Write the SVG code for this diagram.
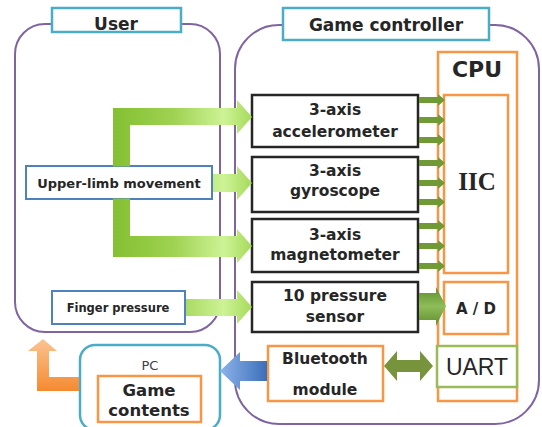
<svg xmlns="http://www.w3.org/2000/svg" width="542" height="427" viewBox="0 0 542 427">
<defs>
<style>
.cont{fill:none;stroke:#8064a2;stroke-width:2}
.lbl{fill:#fff;stroke:#4bacc6;stroke-width:2.5}
.sens{fill:#fff;stroke:#262626;stroke-width:2.5}
.org{fill:#fff;stroke:#f79646;stroke-width:2.5}
.blu{fill:#fff;stroke:#4f81bd;stroke-width:2}
.t{font-family:"DejaVu Sans",Verdana,sans-serif;font-weight:bold;fill:#262626;text-anchor:middle}
.small{fill:#6f9a36}
</style>
<linearGradient id="gg" gradientUnits="userSpaceOnUse" x1="110" y1="0" x2="252" y2="0">
<stop offset="0" stop-color="#82bf30"/>
<stop offset="0.45" stop-color="#9fd252"/>
<stop offset="0.8" stop-color="#cdf396"/>
<stop offset="1" stop-color="#a6da5a"/>
</linearGradient>
<linearGradient id="gp" x1="0" y1="0" x2="0" y2="1">
<stop offset="0" stop-color="#5e8c2a"/>
<stop offset="0.5" stop-color="#8fbd5a"/>
<stop offset="1" stop-color="#5e8c2a"/>
</linearGradient>
<linearGradient id="gb" gradientUnits="userSpaceOnUse" x1="220" y1="0" x2="268" y2="0">
<stop offset="0" stop-color="#8db4ea"/>
<stop offset="1" stop-color="#3a6db8"/>
</linearGradient>
<linearGradient id="go" gradientUnits="userSpaceOnUse" x1="0" y1="339" x2="0" y2="391">
<stop offset="0" stop-color="#fbc492"/>
<stop offset="1" stop-color="#f58a30"/>
</linearGradient>
</defs>
<rect width="542" height="427" fill="#fff"/>

<g id="user-container">
<rect class="cont" x="15" y="24" width="205" height="308" rx="30"/>
<rect class="lbl" x="52" y="8" width="129" height="24"/>
<text class="t" x="116" y="30" font-size="17">User</text>
</g>
<g id="controller-container">
<rect class="cont" x="235" y="25" width="304" height="399" rx="44"/>
<rect class="lbl" x="283" y="8" width="206" height="32"/>
<text class="t" x="386" y="31" font-size="17">Game controller</text>
</g>

<g id="upper-limb">
<rect class="blu" x="26" y="166" width="186" height="33"/>
<text class="t" x="119" y="188" font-size="13">Upper-limb movement</text>
</g>
<g id="finger-pressure">
<rect class="blu" x="52" y="291" width="133" height="33"/>
<text class="t" x="118" y="312" font-size="11.5">Finger pressure</text>
</g>

<g id="accelerometer">
<rect class="sens" x="252" y="95" width="166" height="52"/>
<text class="t" x="335" y="115" font-size="15.5">3-axis</text>
<text class="t" x="335" y="137" font-size="15.5">accelerometer</text>
</g>
<g id="gyroscope">
<rect class="sens" x="252" y="157" width="166" height="55"/>
<text class="t" x="335" y="176" font-size="15.5">3-axis</text>
<text class="t" x="335" y="196" font-size="15.5">gyroscope</text>
</g>
<g id="magnetometer">
<rect class="sens" x="252" y="219" width="166" height="53"/>
<text class="t" x="335" y="240" font-size="15.5">3-axis</text>
<text class="t" x="335" y="260" font-size="15.5">magnetometer</text>
</g>
<g id="pressure-sensor">
<rect class="sens" x="252" y="282" width="166" height="50"/>
<text class="t" x="335" y="301" font-size="15.5">10 pressure</text>
<text class="t" x="335" y="322" font-size="15.5">sensor</text>
</g>

<g id="cpu">
<rect class="org" x="438" y="52" width="79" height="349" fill="none"/>
<text class="t" x="477" y="77" font-size="22" fill="#000">CPU</text>
</g>
<g id="iic">
<rect class="org" x="444" y="95" width="64" height="178"/>
<text x="477" y="190" font-size="25" font-weight="bold" text-anchor="middle" font-family="'Liberation Serif','Times New Roman',serif" fill="#262626">IIC</text>
</g>
<g id="ad">
<rect class="org" x="444" y="282" width="64" height="52"/>
<text class="t" x="476" y="314" font-size="15">A / D</text>
</g>
<g id="uart">
<rect x="437" y="346" width="80" height="41" fill="#fff" stroke="#9bbb59" stroke-width="2.5"/>
<text x="477" y="375" font-size="23" text-anchor="middle" font-family="'Liberation Sans',Arial,sans-serif" fill="#262626">UART</text>
</g>
<g id="bluetooth">
<rect class="org" x="268" y="346" width="115" height="55"/>
<text class="t" x="325" y="364" font-size="15.5">Bluetooth</text>
<text class="t" x="325" y="395" font-size="15.5">module</text>
</g>
<g id="pc">
<rect x="80" y="345" width="140" height="85" rx="15" fill="#fff" stroke="#4bacc6" stroke-width="2.5"/>
<text x="150" y="370" font-size="13" text-anchor="middle" font-family="'DejaVu Sans',Verdana,sans-serif" fill="#404040">PC</text>
</g>
<g id="game-contents">
<rect class="org" x="98" y="376" width="103" height="46"/>
<text class="t" x="149" y="396" font-size="16.5">Game</text>
<text class="t" x="149" y="416" font-size="16.5">contents</text>
</g>

<g id="connectors">
<path fill="url(#gg)" d="M113,108 H237 V100 L252,117 L237,134 V125 H130 V166.5 H113 Z"/>
<path fill="url(#gg)" d="M113,198.5 H130 V236 H237 V229 L252,246 L237,263 V257 H113 Z"/>
<path fill="url(#gg)" d="M213,174 H237 V166 L252,183 L237,200 V192 H213 Z"/>
<path fill="url(#gg)" d="M186,299 H237 V290 L252,307 L237,324 V316 H186 Z"/>
<g class="small">
<path d="M419,97 H438 V94 L445,100 L438,106 V103 H419 Z"/>
<path d="M419,117 H438 V114 L445,120 L438,126 V123 H419 Z"/>
<path d="M419,137 H438 V134 L445,140 L438,146 V143 H419 Z"/>
<path d="M419,160 H438 V157 L445,163 L438,169 V166 H419 Z"/>
<path d="M419,180 H438 V177 L445,183 L438,189 V186 H419 Z"/>
<path d="M419,199 H438 V196 L445,202 L438,208 V205 H419 Z"/>
<path d="M419,223 H438 V220 L445,226 L438,232 V229 H419 Z"/>
<path d="M419,243 H438 V240 L445,246 L438,252 V249 H419 Z"/>
<path d="M419,263 H438 V260 L445,266 L438,272 V269 H419 Z"/>
</g>
<path fill="url(#gp)" d="M419,293 H436 V287 L446,306 L436,326 V320 H419 Z"/>
<path fill="#77933c" d="M384,366 L397,351 V360 H420 V351 L433,366 L420,381 V372 H397 V381 Z"/>
<path fill="url(#gb)" d="M220,371 L240,352 V361 H267 V381 H240 V390 Z"/>
<path fill="url(#go)" d="M79,377 H49 V351 H57 L43,339 L28,351 H37 V391 H79 Z"/>
</g>
</svg>
